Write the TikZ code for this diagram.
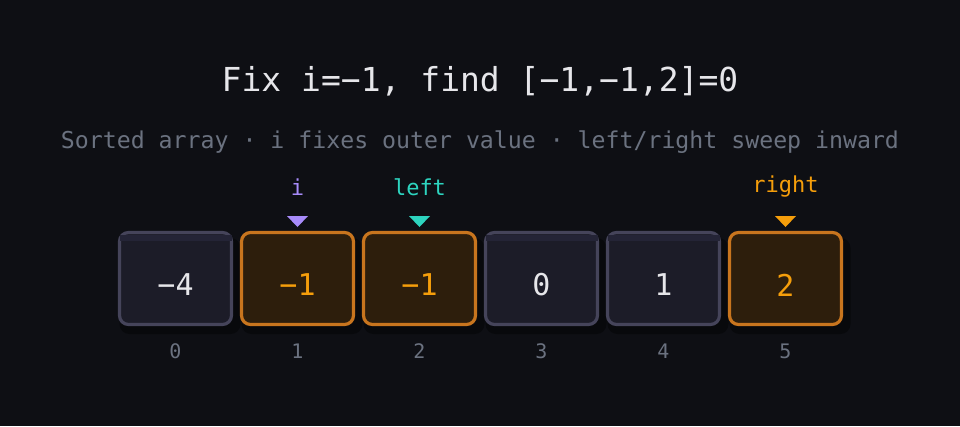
\documentclass[tikz,border=0pt]{standalone}
\usepackage{fontspec}
\setmainfont{DejaVu Sans Mono}
\usetikzlibrary{shapes.geometric}
\definecolor{bg}{HTML}{0E0F14}
\definecolor{shadowc}{HTML}{08090C}
\definecolor{grayfill}{HTML}{1C1C28}
\definecolor{grayband}{HTML}{242436}
\definecolor{grayedge}{HTML}{45445A}
\definecolor{orfill}{HTML}{2D1E0C}
\definecolor{oredge}{HTML}{C8751E}
\definecolor{ortext}{HTML}{F59E0B}
\definecolor{titlec}{HTML}{E6E6EA}
\definecolor{subc}{HTML}{6B7280}
\definecolor{purp}{HTML}{A78BFA}
\definecolor{teal}{HTML}{2DD4BF}
\begin{document}
\begin{tikzpicture}[x=1pt,y=-1pt,
  cellbase/.style={minimum width=112pt,minimum height=92pt,rounded corners=9pt,line width=3.2pt,inner sep=0pt},
  graycell/.style={cellbase,draw=grayedge,fill=grayfill},
  orcell/.style={cellbase,draw=oredge,fill=orfill},
  val/.style={font=\fontsize{30}{30}\selectfont},
  idx/.style={text=subc,font=\fontsize{20}{20}\selectfont},
  ptrlabel/.style={font=\fontsize{22}{22}\selectfont}
]
\fill[bg] (0,0) rectangle (960,426);
\useasboundingbox (0,0) rectangle (960,426);

\node[text=titlec,font=\fontsize{33}{33}\selectfont] (title) at (480,81.5) {Fix i=−1, find [−1,−1,2]=0};
\node[text=subc,font=\fontsize{23.2}{23.2}\selectfont] (sub) at (480,142) {Sorted array · i fixes outer value · left/right sweep inward};

% shadows
\foreach \cx in {175.5,297.5,419.5,541.5,663.5,785.5}{
  \fill[shadowc,rounded corners=10pt] (\cx-56,238) rectangle (\cx+65,334);
}

\node[graycell] (c0) at (175.5,278.5) {};
\node[orcell]   (c1) at (297.5,278.5) {};
\node[orcell]   (c2) at (419.5,278.5) {};
\node[graycell] (c3) at (541.5,278.5) {};
\node[graycell] (c4) at (663.5,278.5) {};
\node[orcell]   (c5) at (785.5,278.5) {};

% top bands on gray cells
\foreach \c in {c0,c3,c4}{
  \fill[grayband] ([xshift=1.6pt,yshift=-4pt]\c.north west) rectangle ([xshift=-1.6pt,yshift=-10pt]\c.north east);
}

\node[val,text=titlec] (v0) at (175.5,285) {−4};
\node[val,text=ortext] (v1) at (297.5,285) {−1};
\node[val,text=ortext] (v2) at (419.5,285) {−1};
\node[val,text=titlec] (v3) at (541.5,285) {0};
\node[val,text=titlec] (v4) at (663.5,285) {1};
\node[val,text=ortext] (v5) at (785.5,285) {2};

\node[idx] (i0) at (175.5,351) {0};
\node[idx] (i1) at (297.5,351) {1};
\node[idx] (i2) at (419.5,351) {2};
\node[idx] (i3) at (541.5,351) {3};
\node[idx] (i4) at (663.5,351) {4};
\node[idx] (i5) at (785.5,351) {5};

\node[ptrlabel,text=purp] (li) at (297.5,187) {i};
\node[ptrlabel,text=teal] (ll) at (419.5,187) {left};
\node[ptrlabel,text=ortext] (lr) at (785.5,187) {right};

\fill[purp] (287,216) -- (308,216) -- (297.5,227) -- cycle;
\fill[teal] (409,216) -- (430,216) -- (419.5,227) -- cycle;
\fill[ortext] (775,216) -- (796,216) -- (785.5,227) -- cycle;
\end{tikzpicture}
\end{document}
